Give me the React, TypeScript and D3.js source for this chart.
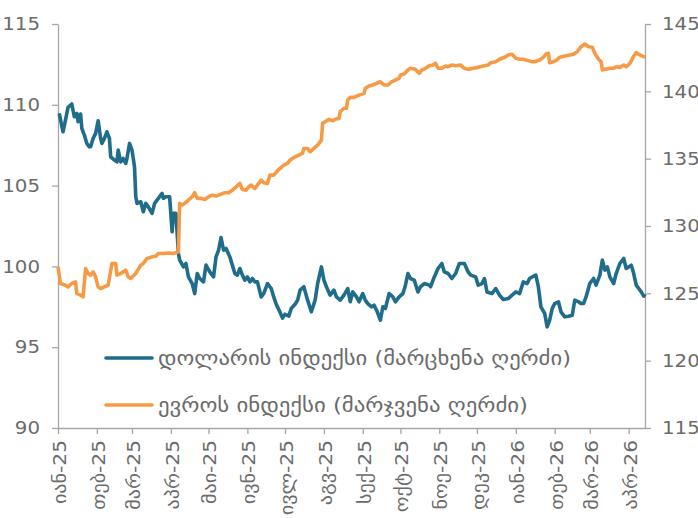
import React, { useRef, useEffect } from 'react';
import * as d3 from 'd3';

// dollar index, left axis
const dollarDates = [
  '2025-01-02', '2025-01-05', '2025-01-07', '2025-01-09', '2025-01-12', '2025-01-14', '2025-01-16', '2025-01-17',
  '2025-01-19', '2025-01-20', '2025-01-22', '2025-01-24', '2025-01-26', '2025-01-27', '2025-01-29', '2025-01-31',
  '2025-02-02', '2025-02-04', '2025-02-05', '2025-02-07', '2025-02-09', '2025-02-11', '2025-02-12', '2025-02-15',
  '2025-02-17', '2025-02-18', '2025-02-20', '2025-02-22', '2025-02-24', '2025-02-25', '2025-02-27', '2025-03-01',
  '2025-03-03', '2025-03-04', '2025-03-05', '2025-03-08', '2025-03-10', '2025-03-12', '2025-03-14', '2025-03-17',
  '2025-03-19', '2025-03-22', '2025-03-25', '2025-03-26', '2025-03-28', '2025-03-31', '2025-04-02', '2025-04-03',
  '2025-04-05', '2025-04-07', '2025-04-08', '2025-04-11', '2025-04-13', '2025-04-15', '2025-04-18', '2025-04-20',
  '2025-04-22', '2025-04-24', '2025-04-27', '2025-04-29', '2025-05-02', '2025-05-05', '2025-05-07', '2025-05-09',
  '2025-05-11', '2025-05-13', '2025-05-15', '2025-05-18', '2025-05-20', '2025-05-22', '2025-05-24', '2025-05-26',
  '2025-05-28', '2025-05-30', '2025-06-01', '2025-06-03', '2025-06-05', '2025-06-07', '2025-06-09', '2025-06-12',
  '2025-06-14', '2025-06-17', '2025-06-20', '2025-06-22', '2025-06-24', '2025-06-27', '2025-06-29', '2025-07-01',
  '2025-07-04', '2025-07-06', '2025-07-09', '2025-07-11', '2025-07-13', '2025-07-16', '2025-07-19', '2025-07-22',
  '2025-07-25', '2025-07-27', '2025-07-30', '2025-08-01', '2025-08-03', '2025-08-06', '2025-08-09', '2025-08-11',
  '2025-08-14', '2025-08-17', '2025-08-20', '2025-08-22', '2025-08-24', '2025-08-27', '2025-08-29', '2025-09-01',
  '2025-09-03', '2025-09-05', '2025-09-08', '2025-09-10', '2025-09-12', '2025-09-15', '2025-09-17', '2025-09-19',
  '2025-09-22', '2025-09-25', '2025-09-27', '2025-09-30', '2025-10-03', '2025-10-05', '2025-10-07', '2025-10-09',
  '2025-10-12', '2025-10-15', '2025-10-17', '2025-10-20', '2025-10-24', '2025-10-25', '2025-10-28', '2025-10-31',
  '2025-11-03', '2025-11-05', '2025-11-08', '2025-11-11', '2025-11-14', '2025-11-17', '2025-11-21', '2025-11-24',
  '2025-11-26', '2025-11-30', '2025-12-02', '2025-12-05', '2025-12-07', '2025-12-09', '2025-12-13', '2025-12-16',
  '2025-12-19', '2025-12-22', '2025-12-26', '2025-12-29', '2026-01-01', '2026-01-04', '2026-01-07', '2026-01-10',
  '2026-01-12', '2026-01-15', '2026-01-17', '2026-01-19', '2026-01-21', '2026-01-24', '2026-01-26', '2026-01-28',
  '2026-01-30', '2026-02-01', '2026-02-04', '2026-02-06', '2026-02-09', '2026-02-12', '2026-02-15', '2026-02-17',
  '2026-02-20', '2026-02-22', '2026-02-24', '2026-02-26', '2026-03-01', '2026-03-04', '2026-03-06', '2026-03-09',
  '2026-03-11', '2026-03-13', '2026-03-15', '2026-03-17', '2026-03-20', '2026-03-22', '2026-03-25', '2026-03-28',
  '2026-03-30', '2026-04-01', '2026-04-03', '2026-04-05', '2026-04-07', '2026-04-09', '2026-04-11', '2026-04-13',
  '2026-04-14',
];
const dollarValues = [
  109.47, 108.33, 109.06, 109.84, 110.05, 109.26, 109.47, 108.95,
  109.43, 108.54, 108.13, 107.61, 107.4, 107.4, 107.92, 108.23,
  109.01, 107.92, 107.61, 107.92, 108.33, 107.92, 106.78, 106.58,
  106.47, 107.2, 106.47, 106.68, 106.37, 106.68, 107.61, 107.2,
  106.16, 104.31, 103.9, 104.0, 103.38, 103.9, 103.69, 103.28,
  103.9, 104.21, 104.52, 104.21, 104.31, 104.31, 102.14, 103.28,
  103.28, 100.8, 100.39, 99.97, 100.18, 99.35, 98.94, 98.32,
  99.56, 99.25, 99.04, 100.08, 99.66, 99.35, 100.59, 101.0,
  101.79, 101.0, 101.11, 100.59, 100.08, 99.56, 99.46, 99.87,
  99.46, 99.15, 99.35, 99.04, 99.25, 99.04, 99.04, 98.11,
  98.32, 98.94, 98.63, 98.11, 97.66, 97.17, 96.8, 97.04,
  96.92, 97.4, 97.66, 97.9, 98.53, 98.74, 97.91, 97.19,
  97.91, 98.94, 99.97, 99.15, 98.74, 98.22, 98.53, 98.11,
  97.91, 98.22, 98.63, 97.81, 98.42, 98.11, 97.81, 98.32,
  97.91, 97.7, 97.5, 97.6, 97.29, 96.67, 97.5, 97.39,
  98.32, 98.11, 97.81, 98.11, 98.32, 98.84, 99.56, 99.25,
  99.15, 98.42, 98.74, 98.94, 98.84, 98.74, 99.35, 99.87,
  100.18, 99.66, 99.56, 99.25, 99.56, 100.18, 100.18, 99.66,
  99.46, 99.35, 98.84, 98.94, 99.25, 98.42, 98.32, 98.63,
  98.22, 97.95, 98.01, 98.22, 98.42, 98.32, 99.04, 98.94,
  99.25, 99.39, 99.46, 98.74, 97.5, 97.09, 96.26, 96.67,
  97.39, 97.7, 97.81, 97.19, 96.88, 96.92, 96.98, 97.91,
  97.81, 97.7, 97.7, 98.11, 98.94, 99.25, 98.84, 99.46,
  100.39, 99.77, 99.97, 99.35, 98.94, 99.56, 100.18, 100.49,
  99.87, 99.97, 100.08, 99.56, 98.84, 98.63, 98.42, 98.16,
  98.28,
];

// euro index, right axis
const euroDates = [
  '2025-01-01', '2025-01-03', '2025-01-07', '2025-01-09', '2025-01-12', '2025-01-15', '2025-01-16', '2025-01-19',
  '2025-01-21', '2025-01-23', '2025-01-25', '2025-01-27', '2025-01-29', '2025-01-31', '2025-02-02', '2025-02-04',
  '2025-02-07', '2025-02-10', '2025-02-13', '2025-02-16', '2025-02-17', '2025-02-20', '2025-02-24', '2025-02-26',
  '2025-02-28', '2025-03-04', '2025-03-08', '2025-03-10', '2025-03-13', '2025-03-17', '2025-03-20', '2025-03-22',
  '2025-03-26', '2025-03-30', '2025-04-03', '2025-04-07', '2025-04-08', '2025-04-10', '2025-04-12', '2025-04-15',
  '2025-04-18', '2025-04-20', '2025-04-22', '2025-04-25', '2025-04-28', '2025-05-01', '2025-05-04', '2025-05-07',
  '2025-05-11', '2025-05-14', '2025-05-17', '2025-05-20', '2025-05-23', '2025-05-26', '2025-05-28', '2025-05-31',
  '2025-06-02', '2025-06-04', '2025-06-07', '2025-06-10', '2025-06-12', '2025-06-14', '2025-06-17', '2025-06-19',
  '2025-06-22', '2025-06-25', '2025-06-27', '2025-06-30', '2025-07-03', '2025-07-05', '2025-07-09', '2025-07-12',
  '2025-07-15', '2025-07-16', '2025-07-19', '2025-07-21', '2025-07-24', '2025-07-27', '2025-07-30', '2025-07-31',
  '2025-08-02', '2025-08-05', '2025-08-08', '2025-08-10', '2025-08-13', '2025-08-14', '2025-08-17', '2025-08-19',
  '2025-08-20', '2025-08-22', '2025-08-25', '2025-08-29', '2025-09-02', '2025-09-03', '2025-09-06', '2025-09-09',
  '2025-09-12', '2025-09-15', '2025-09-18', '2025-09-21', '2025-09-24', '2025-09-27', '2025-09-30', '2025-10-01',
  '2025-10-04', '2025-10-07', '2025-10-09', '2025-10-13', '2025-10-16', '2025-10-18', '2025-10-21', '2025-10-24',
  '2025-10-27', '2025-10-29', '2025-10-31', '2025-11-03', '2025-11-06', '2025-11-08', '2025-11-11', '2025-11-14',
  '2025-11-18', '2025-11-21', '2025-11-24', '2025-11-28', '2025-12-02', '2025-12-06', '2025-12-10', '2025-12-12',
  '2025-12-16', '2025-12-19', '2025-12-23', '2025-12-26', '2025-12-29', '2026-01-01', '2026-01-04', '2026-01-07',
  '2026-01-11', '2026-01-14', '2026-01-16', '2026-01-20', '2026-01-23', '2026-01-25', '2026-01-27', '2026-01-28',
  '2026-01-31', '2026-02-02', '2026-02-05', '2026-02-09', '2026-02-13', '2026-02-16', '2026-02-19', '2026-02-22',
  '2026-02-25', '2026-02-28', '2026-03-03', '2026-03-05', '2026-03-08', '2026-03-10', '2026-03-11', '2026-03-13',
  '2026-03-17', '2026-03-20', '2026-03-22', '2026-03-25', '2026-03-28', '2026-03-30', '2026-04-02', '2026-04-05',
  '2026-04-07', '2026-04-10', '2026-04-12', '2026-04-14',
];
const euroValues = [
  126.96, 125.73, 125.6, 125.48, 125.73, 125.85, 124.99, 124.86,
  124.74, 126.84, 126.47, 126.35, 126.59, 126.22, 125.48, 125.36,
  125.48, 125.6, 127.22, 127.22, 126.35, 126.47, 126.72, 126.22,
  126.1, 126.47, 127.09, 127.22, 127.59, 127.71, 127.76, 127.96,
  127.96, 128.0, 127.96, 128.08, 131.68, 131.55, 131.68, 131.92,
  132.17, 132.47, 132.05, 132.05, 131.97, 132.17, 132.29, 132.22,
  132.37, 132.47, 132.47, 132.66, 132.91, 133.16, 132.71, 132.66,
  132.91, 133.04, 132.79, 133.16, 133.41, 133.21, 133.16, 133.78,
  133.78, 134.1, 134.28, 134.52, 134.65, 134.89, 135.14, 135.27,
  135.39, 135.76, 135.76, 135.51, 135.76, 136.01, 136.38, 137.62,
  137.74, 137.92, 137.81, 137.92, 137.99, 138.48, 138.74, 138.74,
  139.35, 139.55, 139.55, 139.72, 139.85, 140.22, 140.39, 140.47,
  140.59, 140.71, 140.47, 140.47, 140.71, 140.84, 140.96, 141.21,
  141.28, 141.58, 141.71, 141.63, 141.34, 141.58, 141.71, 141.9,
  141.95, 142.08, 141.71, 141.71, 141.88, 141.83, 141.95, 141.9,
  141.95, 141.71, 141.63, 141.71, 141.78, 141.88, 141.95, 142.13,
  142.2, 142.38, 142.53, 142.7, 142.75, 142.45, 142.38, 142.38,
  142.28, 142.2, 142.2, 142.33, 142.53, 142.77, 142.82, 142.13,
  142.2, 142.28, 142.53, 142.62, 142.7, 142.75, 142.94, 143.31,
  143.51, 143.31, 143.27, 142.82, 142.38, 142.2, 141.58, 141.63,
  141.71, 141.71, 141.83, 141.78, 141.95, 141.83, 142.08, 142.62,
  142.87, 142.7, 142.62, 142.53,
];

const monthLabels = [
  'იან-25', 'თებ-25', 'მარ-25', 'აპრ-25', 'მაი-25', 'ივნ-25', 'ივლ-25', 'აგვ-25',
  'სექ-25', 'ოქტ-25', 'ნოე-25', 'დეკ-25', 'იან-26', 'თებ-26', 'მარ-26', 'აპრ-26',
];
const leftTicks = [90, 95, 100, 105, 110, 115];
const rightTicks = [115, 120, 125, 130, 135, 140, 145];
const legendLabels = ['დოლარის ინდექსი (მარცხენა ღერძი)', 'ევროს ინდექსი (მარჯვენა ღერძი)'];
const legendWidths = [413, 370];

const BLUE = '#1f6c8b';
const ORANGE = '#f79a46';
const AXIS = '#a6a6a6';
const TEXT = '#6b6b6b';
const FONT = 'DejaVu Sans, Verdana, sans-serif';

// the original font is wider than DejaVu; stretch text along its baseline
const stretch = (sel, factor) => {
  sel.each(function () {
    const len = this.getComputedTextLength();
    d3.select(this)
      .attr('textLength', len * factor)
      .attr('lengthAdjust', 'spacingAndGlyphs');
  });
};

const App = () => {
  const svgRef = useRef(null);

  useEffect(() => {
    const width = 698;
    const height = 518;
    const margin = { top: 24, right: 53, bottom: 90, left: 58 };
    const innerWidth = width - margin.left - margin.right;
    const innerHeight = height - margin.top - margin.bottom;

    const parse = d3.timeParse('%Y-%m-%d');

    d3.select(svgRef.current).selectAll('*').remove();

    const svg = d3.select(svgRef.current)
      .attr('width', width)
      .attr('height', height)
      .style('position', 'absolute')
      .style('left', '0px')
      .style('top', '0px')
      .style('font-family', FONT);

    const g = svg.append('g')
      .attr('transform', `translate(${margin.left},${margin.top})`);

    const xScale = d3.scaleTime()
      .domain([parse('2025-01-01'), parse('2026-04-14')])
      .range([0, innerWidth]);

    const yLeft = d3.scaleLinear().domain([90, 115]).range([innerHeight, 0]);
    const yRight = d3.scaleLinear().domain([115, 145]).range([innerHeight, 0]);

    // x axis, monthly ticks
    const monthTicks = d3.timeMonth.range(parse('2025-01-01'), parse('2026-04-02'));
    const xAxis = g.append('g')
      .attr('transform', `translate(0,${innerHeight})`)
      .call(d3.axisBottom(xScale)
        .tickValues(monthTicks)
        .tickSize(6)
        .tickSizeOuter(0)
        .tickFormat((d, i) => monthLabels[i]));

    const yAxisL = g.append('g')
      .call(d3.axisLeft(yLeft).tickValues(leftTicks).tickSize(6).tickSizeOuter(0).tickPadding(12));

    const yAxisR = g.append('g')
      .attr('transform', `translate(${innerWidth},0)`)
      .call(d3.axisRight(yRight).tickValues(rightTicks).tickSize(6).tickSizeOuter(0).tickPadding(11));

    [xAxis, yAxisL, yAxisR].forEach(ax => {
      ax.select('.domain').attr('stroke', AXIS).attr('stroke-width', 1.3);
      ax.selectAll('.tick line').attr('stroke', AXIS).attr('stroke-width', 1.3);
      ax.selectAll('text')
        .attr('fill', TEXT)
        .style('font-size', '18px')
        .style('font-family', FONT);
    });

    xAxis.selectAll('text')
      .attr('transform', 'rotate(-90)')
      .attr('text-anchor', 'end')
      .attr('x', -12)
      .attr('y', 1)
      .attr('dy', '0.35em')
      .style('font-size', '18px');
    stretch(xAxis.selectAll('text'), 1.12);
    stretch(yAxisL.selectAll('text'), 1.1);
    stretch(yAxisR.selectAll('text'), 1.1);

    const dollar = dollarDates.map((d, i) => ({ date: parse(d), value: dollarValues[i] }));
    const euro = euroDates.map((d, i) => ({ date: parse(d), value: euroValues[i] }));

    const lineLeft = d3.line()
      .x(d => xScale(d.date))
      .y(d => yLeft(d.value));
    const lineRight = d3.line()
      .x(d => xScale(d.date))
      .y(d => yRight(d.value));

    g.append('path')
      .datum(dollar)
      .attr('fill', 'none')
      .attr('stroke', BLUE)
      .attr('stroke-width', 3.6)
      .attr('stroke-linejoin', 'round')
      .attr('d', lineLeft);

    g.append('path')
      .datum(euro)
      .attr('fill', 'none')
      .attr('stroke', ORANGE)
      .attr('stroke-width', 3.6)
      .attr('stroke-linejoin', 'round')
      .attr('d', lineRight);

    // legend
    const legend = svg.append('g').attr('transform', 'translate(106,358)');
    [BLUE, ORANGE].forEach((c, i) => {
      const item = legend.append('g').attr('transform', `translate(0,${i * 47})`);
      item.append('line')
        .attr('x1', 0)
        .attr('x2', 46)
        .attr('stroke', c)
        .attr('stroke-width', 3.6)
        .attr('stroke-linecap', 'round');
      item.append('text')
        .attr('x', 52)
        .attr('dy', '0.35em')
        .attr('fill', TEXT)
        .style('font-size', '20px')
        .attr('textLength', legendWidths[i])
        .attr('lengthAdjust', 'spacingAndGlyphs')
        .text(legendLabels[i]);
    });
  }, []);

  return <svg ref={svgRef}></svg>;
};

export default App;
